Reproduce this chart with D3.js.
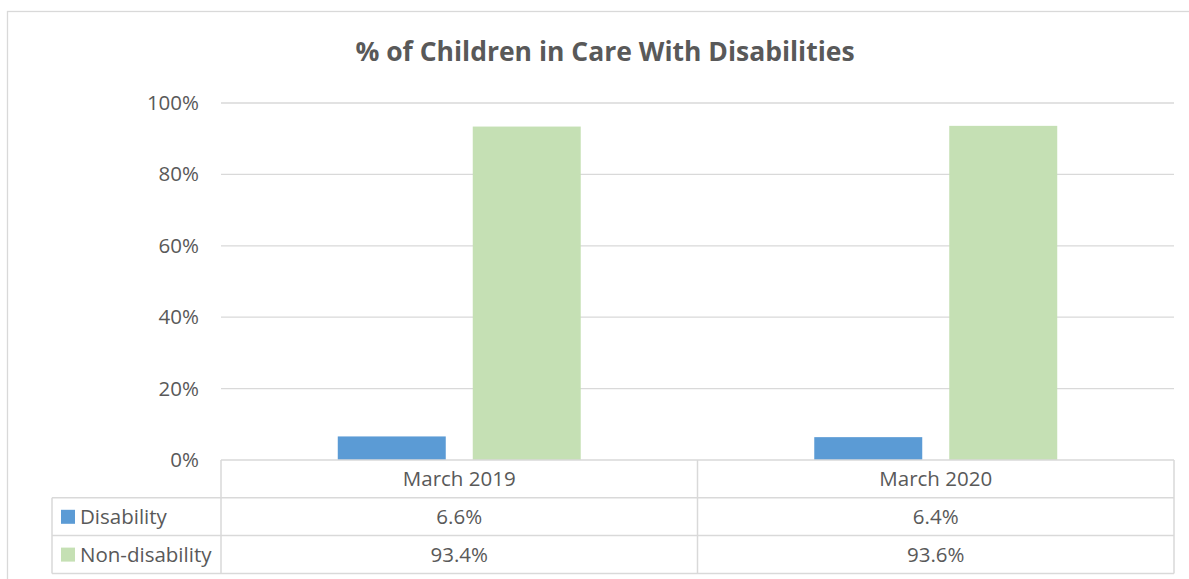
<!DOCTYPE html>
<html>
<head>
<meta charset="utf-8">
<script src="https://cdn.jsdelivr.net/npm/d3@7"></script>
<style>
  html, body { margin: 0; padding: 0; background: #fff; }
  svg { display: block; }
  text { font-family: "Open Sans", Lato, sans-serif; fill: #595959; }
</style>
</head>
<body>
<svg id="chart" width="1189" height="579"></svg>
<script>
const title = "% of Children in Care With Disabilities";
const categories = ["March 2019", "March 2020"];
const seriesNames = ["Disability", "Non-disability"];
const disabilityValues = [0.066, 0.064];
const nonDisabilityValues = [0.934, 0.936];
const seriesLabels = [["6.6%", "6.4%"], ["93.4%", "93.6%"]];
const yTicks = [0, 0.2, 0.4, 0.6, 0.8, 1.0];
const colors = ["#5B9BD5", "#C5E0B4"];

const seriesValues = [disabilityValues, nonDisabilityValues];

const W = 1189, H = 579;
const svg = d3.select("#chart");
const gridColor = "#d9d9d9";
const fontFam = "'Open Sans', Lato, sans-serif";
const labelSize = "20.5px";

// outer chart border
svg.append("rect")
  .attr("x", 7.5).attr("y", 11.5)
  .attr("width", W + 10).attr("height", H + 10)
  .attr("fill", "none").attr("stroke", gridColor).attr("stroke-width", 1.3);

const plot = { left: 221, right: 1174, top: 103, bottom: 460 };

const x0 = d3.scaleBand().domain(categories).range([plot.left, plot.right]).paddingInner(0).paddingOuter(0);
const x1 = d3.scaleBand().domain(seriesNames).range([0, x0.bandwidth()]).paddingInner(0.2).paddingOuter(0.865);
const y = d3.scaleLinear().domain([0, 1]).range([plot.bottom, plot.top]);

// title
svg.append("text")
  .attr("x", 605).attr("y", 61)
  .attr("text-anchor", "middle")
  .style("font-size", "26.5px").style("font-weight", "bold")
  .text(title);

// y axis labels
const yAxis = d3.axisLeft(y).tickValues(yTicks).tickFormat(d3.format(".0%")).tickSize(0).tickPadding(22);
const gy = svg.append("g").attr("transform", `translate(${plot.left},0)`).call(yAxis);
gy.select(".domain").remove();
gy.selectAll("text").style("font-size", labelSize).attr("fill", "#595959").style("font-family", fontFam);

// gridlines
svg.append("g").selectAll("line")
  .data(yTicks.filter(d => d > 0))
  .join("line")
  .attr("x1", plot.left).attr("x2", plot.right)
  .attr("y1", d => y(d)).attr("y2", d => y(d))
  .attr("stroke", gridColor).attr("stroke-width", 1.3);

// bars
seriesNames.forEach((s, si) => {
  svg.append("g").selectAll("rect")
    .data(categories.map((c, ci) => ({ c, v: seriesValues[si][ci] })))
    .join("rect")
    .attr("x", d => x0(d.c) + x1(s))
    .attr("width", x1.bandwidth())
    .attr("y", d => y(d.v))
    .attr("height", d => y(0) - y(d.v))
    .attr("fill", colors[si]);
});

// data table
const rowH = 37.8;
const rows = [plot.bottom, plot.bottom + rowH, plot.bottom + 2 * rowH, plot.bottom + 3 * rowH];
const legendLeft = 52;
const tbl = svg.append("g").attr("stroke", gridColor).attr("stroke-width", 1.5).attr("fill", "none");

tbl.append("line").attr("x1", plot.left).attr("x2", plot.right).attr("y1", rows[0]).attr("y2", rows[0]);
[1, 2, 3].forEach(i => {
  tbl.append("line").attr("x1", legendLeft).attr("x2", plot.right).attr("y1", rows[i]).attr("y2", rows[i]);
});
tbl.append("line").attr("x1", legendLeft).attr("x2", legendLeft).attr("y1", rows[1]).attr("y2", rows[3]);
const colEdges = [plot.left, ...categories.map(c => x0(c) + x0.bandwidth())];
colEdges.forEach(xv => {
  tbl.append("line").attr("x1", xv).attr("x2", xv).attr("y1", rows[0]).attr("y2", rows[3]);
});

// header
svg.append("g").selectAll("text")
  .data(categories)
  .join("text")
  .attr("x", d => x0(d) + x0.bandwidth() / 2)
  .attr("y", rows[0] + 26)
  .attr("text-anchor", "middle")
  .style("font-size", labelSize)
  .text(d => d);

// rows
seriesNames.forEach((s, si) => {
  const ry = rows[si + 1];
  svg.append("rect")
    .attr("x", 61).attr("y", ry + 12).attr("width", 14).attr("height", 14)
    .attr("fill", colors[si]);
  svg.append("text")
    .attr("x", 80).attr("y", ry + 26)
    .style("font-size", labelSize)
    .text(s);
  svg.append("g").selectAll("text")
    .data(categories)
    .join("text")
    .attr("x", d => x0(d) + x0.bandwidth() / 2)
    .attr("y", ry + 26)
    .attr("text-anchor", "middle")
    .style("font-size", labelSize)
    .text((d, ci) => seriesLabels[si][ci]);
});
</script>
</body>
</html>
